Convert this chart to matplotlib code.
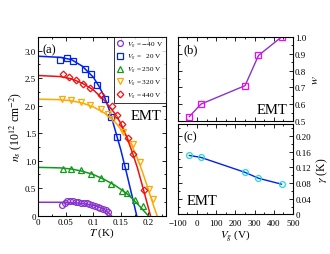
import matplotlib
matplotlib.use("Agg")
import matplotlib.pyplot as plt
from matplotlib.ticker import MultipleLocator

plt.rcParams['font.family'] = ['Liberation Serif', 'DejaVu Serif']
plt.rcParams['mathtext.fontset'] = 'stix'

# ---------------- data: panel (a) ----------------
T_m40 = [0.043, 0.048, 0.053, 0.058, 0.063, 0.068, 0.073, 0.078, 0.083, 0.088,
         0.093, 0.098, 0.103, 0.108, 0.113, 0.118, 0.123, 0.127]
n_m40 = [0.20, 0.24, 0.26, 0.27, 0.26, 0.25, 0.25, 0.24, 0.24, 0.23,
         0.22, 0.20, 0.17, 0.15, 0.14, 0.13, 0.10, 0.07]
fitT_m40 = [0.0, 0.04, 0.06, 0.08, 0.10, 0.11, 0.12, 0.125, 0.13, 0.133]
fitn_m40 = [0.245, 0.245, 0.24, 0.225, 0.19, 0.16, 0.11, 0.08, 0.03, 0.0]

T_20 = [0.040, 0.052, 0.063, 0.085, 0.095, 0.107, 0.121, 0.133, 0.1436, 0.158]
n_20 = [2.84, 2.87, 2.81, 2.67, 2.57, 2.37, 2.13, 1.80, 1.44, 0.90]
fitT_20 = [0.0, 0.04, 0.06, 0.08, 0.10, 0.11, 0.12, 0.13, 0.14, 0.15, 0.16, 0.17, 0.179]
fitn_20 = [2.90, 2.88, 2.84, 2.72, 2.52, 2.36, 2.17, 1.90, 1.55, 1.20, 0.80, 0.38, 0.0]

T_250 = [0.0455, 0.059, 0.078, 0.096, 0.114, 0.133, 0.153, 0.161, 0.175, 0.190]
n_250 = [0.85, 0.85, 0.83, 0.75, 0.68, 0.58, 0.45, 0.42, 0.28, 0.17]
fitT_250 = [0.0, 0.04, 0.06, 0.08, 0.10, 0.12, 0.14, 0.16, 0.17, 0.18, 0.19, 0.20]
fitn_250 = [0.88, 0.87, 0.85, 0.81, 0.75, 0.66, 0.55, 0.41, 0.32, 0.22, 0.11, 0.0]

T_320 = [0.0425, 0.059, 0.0776, 0.0945, 0.114, 0.126, 0.136, 0.1545, 0.173, 0.185, 0.202, 0.208]
n_320 = [2.13, 2.11, 2.07, 2.02, 1.94, 1.85, 1.76, 1.52, 1.30, 0.98, 0.49, 0.30]
fitT_320 = [0.0, 0.04, 0.06, 0.08, 0.10, 0.12, 0.14, 0.16, 0.17, 0.18, 0.19, 0.20, 0.21, 0.216]
fitn_320 = [2.12, 2.11, 2.09, 2.05, 1.98, 1.87, 1.70, 1.45, 1.28, 1.05, 0.78, 0.48, 0.17, 0.0]

T_440 = [0.0455, 0.0558, 0.069, 0.0818, 0.094, 0.114, 0.1335, 0.1425, 0.153, 0.1636, 0.1727, 0.192]
n_440 = [2.58, 2.53, 2.47, 2.39, 2.32, 2.20, 1.99, 1.83, 1.67, 1.41, 1.13, 0.46]
fitT_440 = [0.0, 0.04, 0.06, 0.08, 0.10, 0.12, 0.14, 0.15, 0.16, 0.17, 0.18, 0.19, 0.20, 0.204]
fitn_440 = [2.55, 2.53, 2.49, 2.41, 2.29, 2.10, 1.85, 1.68, 1.45, 1.18, 0.88, 0.52, 0.15, 0.0]

labels_a = [r'$V_g$ = $-$40 V', r'$V_g$ =   20 V', r'$V_g$ = 250 V',
            r'$V_g$ = 320 V', r'$V_g$ = 440 V']

# ---------------- data: panels (b), (c) ----------------
Vg = [-40, 20, 250, 320, 440]
w_vals = [0.526, 0.60, 0.71, 0.89, 1.0]
gamma_vals = [0.150, 0.145, 0.107, 0.092, 0.077]

fig = plt.figure(figsize=(3.3, 2.55), dpi=100)

c_pur = '#8833cc'
c_blue = '#0022ee'
c_green = '#11991a'
c_orange = '#ffa800'
c_red = '#ee1111'

def style(ax):
    ax.tick_params(which='both', direction='in', top=True, right=True,
                   labelsize=6.5, pad=1.5)
    ax.tick_params(which='major', length=3, width=0.6)
    ax.tick_params(which='minor', length=1.7, width=0.6)
    for s in ax.spines.values():
        s.set_linewidth(0.8)

# ---------- (a) ----------
axa = fig.add_axes([0.116, 0.150, 0.386, 0.701])
series = [
    (T_m40, n_m40, fitT_m40, fitn_m40, c_pur, 'o'),
    (T_20, n_20, fitT_20, fitn_20, c_blue, 's'),
    (T_250, n_250, fitT_250, fitn_250, c_green, '^'),
    (T_320, n_320, fitT_320, fitn_320, c_orange, 'v'),
    (T_440, n_440, fitT_440, fitn_440, c_red, 'D'),
]
handles = []
for (tx, ny, ft, fn, col, mk), lab in zip(series, labels_a):
    axa.plot(ft, fn, '-', color=col, lw=1.1, zorder=2)
    ms = 3.4 if mk == 'D' else 4.2
    h, = axa.plot(tx, ny, linestyle='none', marker=mk, ms=ms, mfc='none',
                  mec=col, mew=0.9, label=lab, zorder=3)
    handles.append(h)
axa.set_xlim(0, 0.2316)
axa.set_ylim(0, 3.25)
axa.xaxis.set_minor_locator(MultipleLocator(0.025))
axa.yaxis.set_minor_locator(MultipleLocator(0.25))
axa.set_xticks([0, 0.05, 0.1, 0.15, 0.2])
axa.set_xticklabels(['0', '0.05', '0.1', '0.15', '0.2'])
axa.set_yticks([0, 0.5, 1.0, 1.5, 2.0, 2.5, 3.0])
axa.set_yticklabels(['0', '0.5', '1.0', '1.5', '2.0', '2.5', '3.0'])
style(axa)
axa.set_xlabel(r'$T$ (K)', fontsize=8, labelpad=0)
axa.set_ylabel(r'$n_s$ (10$^{12}$ cm$^{-2}$)', fontsize=8.5, labelpad=1)
axa.text(0.03, 0.965, '(a)', transform=axa.transAxes, fontsize=9, va='top', ha='left')
axa.text(0.97, 0.56, 'EMT', transform=axa.transAxes, fontsize=10.5, va='center', ha='right')
leg = axa.legend(handles=handles, loc='upper right', fontsize=5.2, frameon=True,
                 fancybox=False, edgecolor='black', borderpad=0.35,
                 labelspacing=0.35, handlelength=1.0, handletextpad=0.4,
                 borderaxespad=0.0)
leg.get_frame().set_linewidth(0.7)

# ---------- (b) ----------
axb = fig.add_axes([0.539, 0.522, 0.349, 0.329])
axb.plot(Vg, w_vals, '-', color='#8a33cc', lw=1.0, marker='s', ms=4, mfc='none',
         mec='#ff00ff', mew=0.9)
axb.set_xlim(-100, 500)
axb.set_ylim(0.5, 1.0)
axb.xaxis.set_major_locator(MultipleLocator(100))
axb.xaxis.set_minor_locator(MultipleLocator(50))
axb.yaxis.set_major_locator(MultipleLocator(0.1))
axb.yaxis.set_minor_locator(MultipleLocator(0.05))
style(axb)
axb.tick_params(labelleft=False, labelright=True, labelbottom=False)
axb.yaxis.set_label_position('right')
axb.set_ylabel(r'$w$', fontsize=8.5, labelpad=2)
axb.text(0.05, 0.93, '(b)', transform=axb.transAxes, fontsize=9, va='top', ha='left')
axb.text(0.95, 0.06, 'EMT', transform=axb.transAxes, fontsize=10.5, va='bottom', ha='right')

# ---------- (c) ----------
axc = fig.add_axes([0.539, 0.155, 0.349, 0.355])
axc.plot(Vg, gamma_vals, '-', color=c_blue, lw=1.0, marker='o', ms=4.2, mfc='none',
         mec='#22d8d8', mew=0.9)
axc.set_xlim(-100, 500)
axc.set_ylim(0, 0.23)
axc.xaxis.set_major_locator(MultipleLocator(100))
axc.xaxis.set_minor_locator(MultipleLocator(50))
axc.set_yticks([0, 0.04, 0.08, 0.12, 0.16, 0.20])
axc.set_yticklabels(['0', '0.04', '0.08', '0.12', '0.16', '0.20'])
axc.yaxis.set_minor_locator(MultipleLocator(0.02))
style(axc)
axc.tick_params(labelleft=False, labelright=True)
axc.tick_params(axis='x', pad=3.0)
axc.tick_params(axis='y', pad=2.2)
axc.yaxis.set_label_position('right')
axc.set_ylabel(r'$\gamma$ (K)', fontsize=8.5, labelpad=2)
axc.set_xlabel(r'$V_g$ (V)', fontsize=8, labelpad=0)
axc.text(0.05, 0.93, '(c)', transform=axc.transAxes, fontsize=9, va='top', ha='left')
axc.text(0.08, 0.08, 'EMT', transform=axc.transAxes, fontsize=10.5, va='bottom', ha='left')

fig.savefig('out.png', dpi=100)
